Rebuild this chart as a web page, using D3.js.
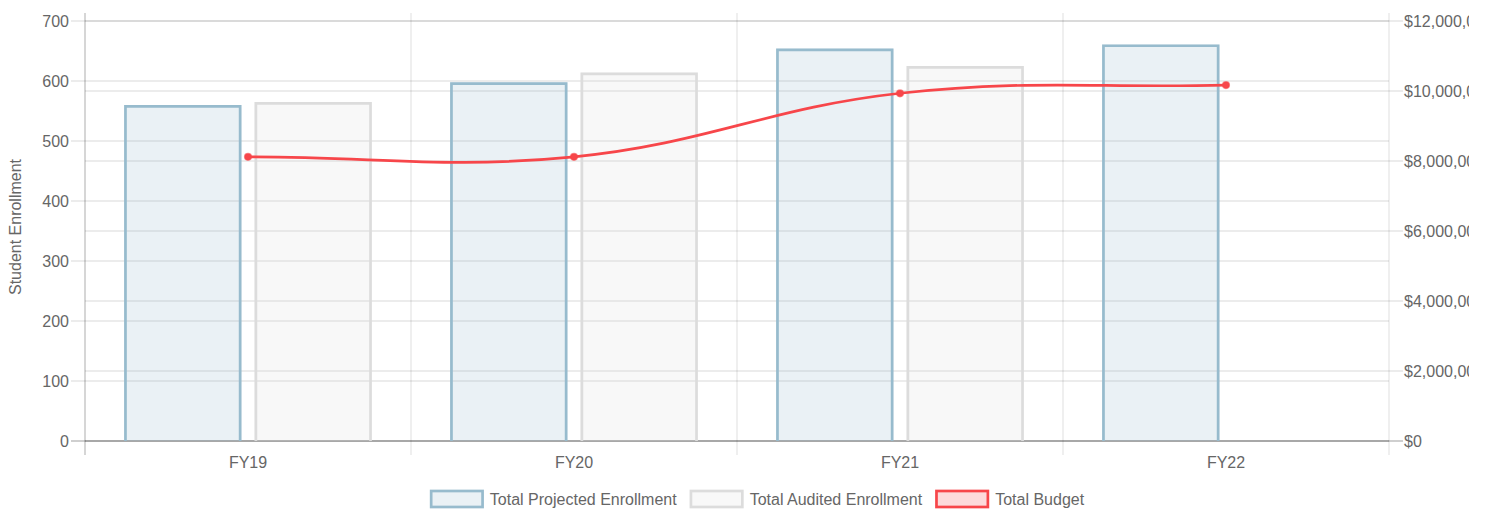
<!DOCTYPE html>
<html>
<head>
<meta charset="utf-8">
<script src="https://cdn.jsdelivr.net/npm/d3@7"></script>
<style>
  body { margin: 0; background: #fff; overflow: hidden; }
  svg { display: block; font-family: Arial, "Liberation Sans", sans-serif; }
</style>
</head>
<body>
<div id="chart"></div>
<script>
// data
var categories = ["FY19", "FY20", "FY21", "FY22"];
var projected = [560, 598, 654, 661];
var audited = [565, 614, 625, null];
var budget = [8120000, 8120000, 9935000, 10170000];
var leftTicks = [0, 100, 200, 300, 400, 500, 600, 700];
var rightTicks = [0, 2000000, 4000000, 6000000, 8000000, 10000000, 12000000];
var seriesNames = ["Total Projected Enrollment", "Total Audited Enrollment", "Total Budget"];

// sizes
var W = 1486, H = 511;
var plotLeft = 85, plotRight = 1389, plotTop = 21, plotBottom = 441, gridTop = 13, tickLen = 14;
var canvasEdge = 1469; // the original canvas cuts the right labels here
var textColor = "#666", gridColor = "rgba(0,0,0,0.1)", zeroColor = "rgba(0,0,0,0.25)";
var fontSize = 16;

var colors = [
  {stroke: "rgb(151,187,205)", fill: "rgba(151,187,205,0.2)"},
  {stroke: "rgb(220,220,220)", fill: "rgba(220,220,220,0.2)"},
  {stroke: "rgb(247,70,74)", fill: "rgba(247,70,74,0.2)"}
];

var svg = d3.select("#chart")
  .append("svg")
  .attr("width", W)
  .attr("height", H);

svg.append("clipPath")
  .attr("id", "canvas-clip")
  .append("rect")
    .attr("x", 0)
    .attr("y", 0)
    .attr("width", canvasEdge)
    .attr("height", H);

// scales
var x = d3.scaleBand()
  .domain(categories)
  .range([plotLeft, plotRight])
  .padding(0);

var xInner = d3.scaleBand()
  .domain([0, 1])
  .range([x.bandwidth() * 0.1, x.bandwidth() * 0.9])
  .paddingInner(0.1)
  .paddingOuter(0.05);

var yLeft = d3.scaleLinear().domain([0, 700]).range([plotBottom, plotTop]);
var yRight = d3.scaleLinear().domain([0, 12000000]).range([plotBottom, plotTop]);

// vertical grid lines at category boundaries
var bounds = categories.map(function(c) { return x(c); }).concat([plotRight]);
svg.append("g")
  .selectAll("line")
  .data(bounds)
  .enter()
  .append("line")
    .attr("x1", function(d) { return d; })
    .attr("x2", function(d) { return d; })
    .attr("y1", gridTop)
    .attr("y2", plotBottom + tickLen)
    .attr("stroke", function(d, i) { return i == 0 ? zeroColor : gridColor; })
    .attr("stroke-width", 1.3);

// horizontal grid, left axis
svg.append("g")
  .selectAll("line")
  .data(leftTicks)
  .enter()
  .append("line")
    .attr("x1", plotLeft - tickLen)
    .attr("x2", plotRight)
    .attr("y1", function(d) { return yLeft(d); })
    .attr("y2", function(d) { return yLeft(d); })
    .attr("stroke", function(d) { return d == 0 ? zeroColor : gridColor; })
    .attr("stroke-width", 1.3);

// horizontal grid, right axis
svg.append("g")
  .selectAll("line")
  .data(rightTicks)
  .enter()
  .append("line")
    .attr("x1", plotLeft)
    .attr("x2", plotRight + tickLen)
    .attr("y1", function(d) { return yRight(d); })
    .attr("y2", function(d) { return yRight(d); })
    .attr("stroke", function(d) { return d == 0 ? zeroColor : gridColor; })
    .attr("stroke-width", 1.3);

// axis labels
var gLeft = svg.append("g")
  .attr("transform", "translate(" + plotLeft + ",0)")
  .call(d3.axisLeft(yLeft).tickValues(leftTicks).tickSize(tickLen).tickPadding(2));

var gRight = svg.append("g")
  .attr("clip-path", "url(#canvas-clip)")
  .append("g")
  .attr("transform", "translate(" + plotRight + ",0)")
  .call(d3.axisRight(yRight).tickValues(rightTicks).tickSize(tickLen).tickPadding(1)
    .tickFormat(function(d) { return "$" + d3.format(",")(d); }));

var gBottom = svg.append("g")
  .attr("transform", "translate(0," + plotBottom + ")")
  .call(d3.axisBottom(x).tickSize(0).tickPadding(16));

[gLeft, gRight, gBottom].forEach(function(g) {
  g.select(".domain").remove();
  g.selectAll(".tick line").remove();
  g.selectAll("text")
    .attr("fill", textColor)
    .attr("font-size", fontSize)
    .attr("font-family", "Arial, 'Liberation Sans', sans-serif");
});

// y title
svg.append("text")
  .attr("transform", "translate(20.5," + ((gridTop + plotBottom) / 2) + ") rotate(-90)")
  .attr("text-anchor", "middle")
  .attr("font-size", fontSize)
  .attr("fill", textColor)
  .text("Student Enrollment");

// bars (border on left, top and right, drawn inside)
var bw = 2.7;
[projected, audited].forEach(function(values, s) {
  var rows = categories.map(function(c, i) { return {cat: c, v: values[i]}; })
    .filter(function(d) { return d.v != null; });
  var g = svg.append("g");
  g.selectAll("rect")
    .data(rows)
    .enter()
    .append("rect")
      .attr("x", function(d) { return x(d.cat) + xInner(s); })
      .attr("y", function(d) { return yLeft(d.v); })
      .attr("width", xInner.bandwidth())
      .attr("height", function(d) { return plotBottom - yLeft(d.v); })
      .attr("fill", colors[s].fill);
  g.selectAll("path")
    .data(rows)
    .enter()
    .append("path")
      .attr("d", function(d) {
        var x0 = x(d.cat) + xInner(s) + bw / 2;
        var x1 = x(d.cat) + xInner(s) + xInner.bandwidth() - bw / 2;
        var y0 = yLeft(d.v) + bw / 2;
        return "M" + x0 + "," + plotBottom + "V" + y0 + "H" + x1 + "V" + plotBottom;
      })
      .attr("fill", "none")
      .attr("stroke", colors[s].stroke)
      .attr("stroke-width", bw);
});

// budget line, same spline as chart.js (tension 0.4)
function splinePath(pts, t) {
  var cps = pts.map(function(c, i) {
    var prev = pts[i - 1] || c, next = pts[i + 1] || c;
    var d01 = Math.hypot(c[0] - prev[0], c[1] - prev[1]);
    var d12 = Math.hypot(next[0] - c[0], next[1] - c[1]);
    var s01 = d01 / (d01 + d12) || 0, s12 = d12 / (d01 + d12) || 0;
    var fa = t * s01, fb = t * s12;
    return {
      prev: [c[0] - fa * (next[0] - prev[0]), c[1] - fa * (next[1] - prev[1])],
      next: [c[0] + fb * (next[0] - prev[0]), c[1] + fb * (next[1] - prev[1])]
    };
  });
  var p = d3.path();
  p.moveTo(pts[0][0], pts[0][1]);
  for (var i = 1; i < pts.length; i++) {
    p.bezierCurveTo(cps[i - 1].next[0], cps[i - 1].next[1], cps[i].prev[0], cps[i].prev[1], pts[i][0], pts[i][1]);
  }
  return p.toString();
}

var linePts = categories.map(function(c, i) {
  return [x(c) + x.bandwidth() / 2, yRight(budget[i])];
});

svg.append("path")
  .attr("d", splinePath(linePts, 0.4))
  .attr("fill", "none")
  .attr("stroke", colors[2].stroke)
  .attr("stroke-width", 2.7);

svg.append("g")
  .selectAll("circle")
  .data(linePts)
  .enter()
  .append("circle")
    .attr("cx", function(d) { return d[0]; })
    .attr("cy", function(d) { return d[1]; })
    .attr("r", 3.4)
    .attr("fill", colors[2].stroke)
    .attr("stroke", "rgba(247,70,74,0.6)")
    .attr("stroke-width", 1.4);

// legend
var legend = svg.append("g");
var items = legend.selectAll("g")
  .data(seriesNames)
  .enter()
  .append("g");

items.append("rect")
  .attr("width", 51.4)
  .attr("height", 16)
  .attr("x", 1.3)
  .attr("y", 491)
  .attr("fill", function(d, i) { return colors[i].fill; })
  .attr("stroke", function(d, i) { return colors[i].stroke; })
  .attr("stroke-width", 2.7);

items.append("text")
  .attr("x", 60)
  .attr("y", 499)
  .attr("dy", "0.35em")
  .attr("font-size", fontSize)
  .attr("fill", textColor)
  .text(function(d) { return d; });

var offsets = [], total = 0;
items.each(function() {
  var w = 60 + d3.select(this).select("text").node().getComputedTextLength();
  offsets.push(total);
  total += w + 13;
});
total -= 13;
var legendStart = 757 - total / 2;
items.attr("transform", function(d, i) { return "translate(" + (legendStart + offsets[i]) + ",0)"; });
</script>
</body>
</html>
